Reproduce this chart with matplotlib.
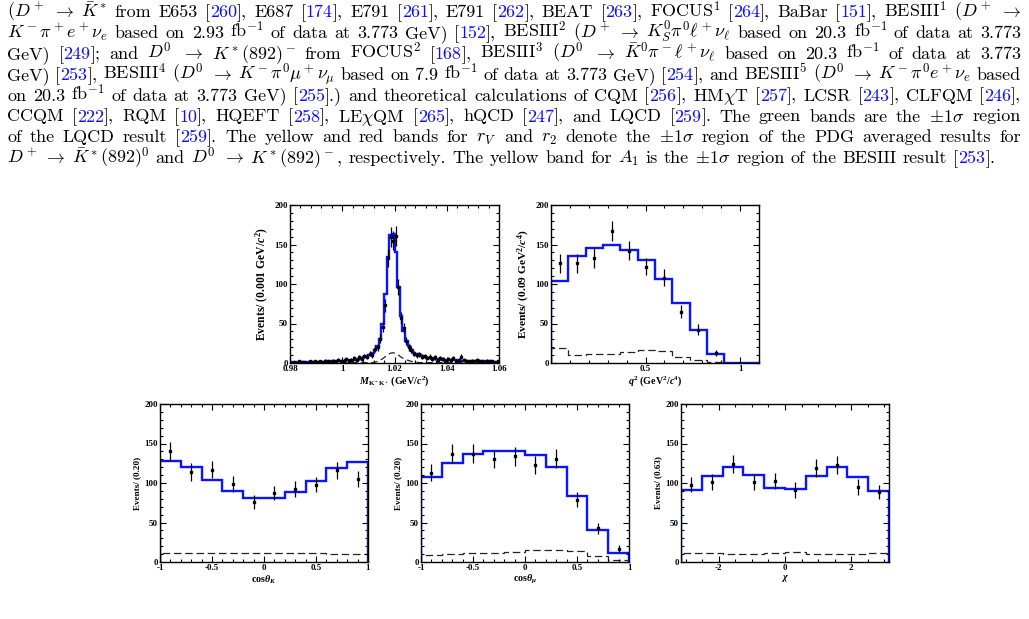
import re
import numpy as np
import matplotlib
matplotlib.use("Agg")
import matplotlib.pyplot as plt
from matplotlib.ticker import MultipleLocator, FuncFormatter

plt.rcParams['font.family'] = 'Liberation Serif'
plt.rcParams['font.weight'] = 'bold'
plt.rcParams['mathtext.fontset'] = 'custom'
plt.rcParams['mathtext.rm'] = 'Liberation Serif:bold'
plt.rcParams['mathtext.bf'] = 'Liberation Serif:bold'
plt.rcParams['mathtext.it'] = 'Liberation Serif:italic:bold'

W, H = 1029, 619
REF_BLUE = '#1010f0'
FIT_BLUE = '#0a14ff'

# ---------------- paragraph text ({nnn} = blue reference number) ----------------
text_lines = [
    r"($D^+$ $\rightarrow$ $\bar{K}^*$ from E653 [{260}], E687 [{174}], E791 [{261}], E791 [{262}], BEAT [{263}], FOCUS$^1$ [{264}], BaBar [{151}], BESIII$^1$ ($D^+$ $\rightarrow$",
    r"$K^-\pi^+e^+\nu_e$ based on 2.93 fb$^{-1}$ of data at 3.773 GeV) [{152}], BESIII$^2$ ($D^+$ $\rightarrow$ $K^0_S\pi^0\ell^+\nu_\ell$ based on 20.3 fb$^{-1}$ of data at 3.773",
    r"GeV) [{249}]; and $D^0$ $\rightarrow$ $K^*(892)^-$ from FOCUS$^2$ [{168}], BESIII$^3$ ($D^0$ $\rightarrow$ $\bar{K}^0\pi^-\ell^+\nu_\ell$ based on 20.3 fb$^{-1}$ of data at 3.773",
    r"GeV) [{253}], BESIII$^4$ ($D^0$ $\rightarrow$ $K^-\pi^0\mu^+\nu_\mu$ based on 7.9 fb$^{-1}$ of data at 3.773 GeV) [{254}], and BESIII$^5$ ($D^0$ $\rightarrow$ $K^-\pi^0e^+\nu_e$ based",
    r"on 20.3 fb$^{-1}$ of data at 3.773 GeV) [{255}].) and theoretical calculations of CQM [{256}], HM$\chi$T [{257}], LCSR [{243}], CLFQM [{246}],",
    r"CCQM [{222}], RQM [{10}], HQEFT [{258}], LE$\chi$QM [{265}], hQCD [{247}], and LQCD [{259}]. The green bands are the $\pm1\sigma$ region",
    r"of the LQCD result [{259}]. The yellow and red bands for $r_V$ and $r_2$ denote the $\pm1\sigma$ region of the PDG averaged results for",
    r"$D^+$ $\rightarrow$ $\bar{K}^*(892)^0$ and $D^0$ $\rightarrow$ $K^*(892)^-$, respectively. The yellow band for $A_1$ is the $\pm1\sigma$ region of the BESIII result [{253}].",
]

# ---------------- M(K-K+) ----------------
mkk_edges = np.arange(0.98, 1.0605, 0.001)[:81]
mkk_fit = [0.9, 0.9, 1.0, 1.0, 1.1, 1.1, 1.2, 1.2, 1.3, 1.4,
           1.5, 1.6, 1.7, 1.8, 1.9, 2.0, 2.2, 2.4, 2.6, 2.8,
           3.0, 3.3, 3.6, 4.0, 4.4, 4.9, 5.5, 6.3, 7.3, 8.6,
           10.3, 12.5, 16, 21, 31, 50, 87, 134, 162, 163,
           140, 96, 60, 40, 28, 21, 16, 13, 11, 9.5,
           8.4, 7.5, 6.8, 6.2, 5.7, 5.3, 4.9, 4.6, 4.3, 4.0,
           3.8, 3.6, 3.4, 3.2, 3.0, 2.9, 2.8, 2.7, 2.6, 2.5,
           2.4, 2.3, 2.2, 2.1, 2.0, 1.9, 1.9, 1.8, 1.8, 1.7]
mkk_data = [0, 1, 0, 2, 1, 1, 0, 2, 1, 2,
            1, 2, 1, 3, 2, 1, 3, 2, 4, 2,
            3, 5, 3, 4, 6, 4, 7, 5, 9, 8,
            12, 10, 18, 20, 31, 46, 73, 133, 160, 155,
            161, 96, 57, 44, 28, 20, 17, 12, 10, 11,
            8, 9, 6, 8, 5, 7, 4, 6, 5, 3,
            5, 4, 6, 3, 4, 8, 4, 3, 2, 3,
            2, 4, 3, 2, 1, 3, 2, 2, 1, 2]
mkk_err = [0, 1, 0, 1.4, 1, 1, 0, 1.4, 1, 1.4,
           1, 1.4, 1, 1.7, 1.4, 1, 1.7, 1.4, 2, 1.4,
           1.7, 2.2, 1.7, 2, 2.4, 2, 2.6, 2.2, 3, 2.8,
           3.5, 3.2, 4.2, 4.5, 5.6, 6.8, 8.5, 11.5, 12.6, 12.4,
           12.7, 9.8, 7.5, 6.6, 5.3, 4.5, 4.1, 3.5, 3.2, 3.3,
           2.8, 3, 2.4, 2.8, 2.2, 2.6, 2, 2.4, 2.2, 1.7,
           2.2, 2, 2.4, 1.7, 2, 2.8, 2, 1.7, 1.4, 1.7,
           1.4, 2, 1.7, 1.4, 1, 1.7, 1.4, 1.4, 1, 1.4]
mkk_bkg = [0.5] * 32 + [1, 2, 3.5, 5.5, 8, 10.5, 12.5, 13, 12, 10,
                        7.5, 5.5, 4, 3, 2, 1.5, 1] + [0.5] * 31

# ---------------- q^2 ----------------
q2_edges = np.linspace(0, 1.1, 13)
q2_fit = [104, 136, 146, 149, 143, 130, 106, 76, 42, 11, 0, 0]
q2_data = [126, 126, 133, 167, 142, 122, 108, 65, 42, 13]
q2_err = [12, 12, 13, 13, 12, 11, 11, 8, 7, 4]
q2_bkg = [19, 10, 11, 12, 14, 17, 15, 8, 4, 1, 0, 0]

# ---------------- cos(theta_K) ----------------
ck_edges = np.linspace(-1, 1, 11)
ck_fit = [128, 120, 104, 90, 81, 81, 89, 103, 119, 126]
ck_data = [140, 114, 117, 99, 76, 87, 92, 98, 116, 105]
ck_err = [12, 11, 11, 10, 9, 9, 10, 10, 11, 10]
ck_bkg = [11, 11, 12, 12, 11, 11, 11, 11, 10, 10]

# ---------------- cos(theta_mu) ----------------
cm_edges = np.linspace(-1, 1, 11)
cm_fit = [107, 125, 137, 140, 140, 135, 120, 84, 41, 11]
cm_data = [113, 137, 137, 130, 134, 123, 131, 79, 43, 17]
cm_err = [11, 12, 12, 11, 12, 11, 12, 9, 7, 4]
cm_bkg = [9, 10, 12, 12, 13, 15, 15, 14, 8, 2]

# ---------------- chi ----------------
chi_edges = np.linspace(-np.pi, np.pi, 11)
chi_fit = [91, 109, 120, 110, 94, 93, 109, 120, 108, 90]
chi_data = [98, 101, 124, 101, 103, 91, 119, 123, 95, 89]
chi_err = [10, 10, 11, 10, 10, 10, 11, 11, 10, 9]
chi_bkg = [11, 11, 10, 10, 11, 13, 10, 10, 10, 11]


fig = plt.figure(figsize=(W / 100, H / 100), dpi=100)
renderer = fig.canvas.get_renderer()

# ---------- justified paragraph ----------
FS = 13.0
X0, X1 = 7, 1021


def put_line(line, ybase, justify=True):
    words = []
    for w in line.split(' '):
        segs = []
        for part in re.split(r'(\{\d+\})', w):
            if not part:
                continue
            if part.startswith('{'):
                segs.append((part[1:-1], REF_BLUE))
            else:
                segs.append((part, 'black'))
        words.append(segs)
    placed, widths = [], []
    for segs in words:
        ts, tot = [], 0
        for s, c in segs:
            t = fig.text(0, 1 - ybase / H, s, color=c, fontsize=FS, family='cmr10',
                         weight='normal', math_fontfamily='cm', va='baseline', ha='left')
            bw = t.get_window_extent(renderer).width
            ts.append((t, bw))
            tot += bw
        placed.append(ts)
        widths.append(tot)
    if justify:
        gap = (X1 - X0 - sum(widths)) / (len(words) - 1)
    else:
        gap = FS * 0.34 * 100 / 72
    x = X0
    for ts, w in zip(placed, widths):
        xx = x
        for t, bw in ts:
            t.set_x(xx / W)
            xx += bw
        x += w + gap


for i, line in enumerate(text_lines):
    put_line(line, 17 + i * 20.9, justify=(i < len(text_lines) - 1))


# ---------- histogram panels ----------
def make_ax(x0, y0, x1, y1):
    return fig.add_axes([x0 / W, 1 - y1 / H, (x1 - x0) / W, (y1 - y0) / H])


def style(ax, xlim, xmajor, xminor, xlabel, ylabel, ylab_fs=6.6, hide_x=()):
    ax.set_xlim(*xlim)
    ax.set_ylim(0, 200)
    ax.xaxis.set_major_locator(MultipleLocator(xmajor))
    ax.xaxis.set_minor_locator(MultipleLocator(xminor))
    ax.yaxis.set_major_locator(MultipleLocator(50))
    ax.yaxis.set_minor_locator(MultipleLocator(10))
    ax.xaxis.set_major_formatter(FuncFormatter(
        lambda v, p: '' if any(abs(v - h) < 1e-9 for h in hide_x) else '%g' % round(v, 4)))
    ax.yaxis.set_major_formatter(FuncFormatter(lambda v, p: '%g' % v))
    ax.tick_params(which='both', direction='in', top=True, right=True, width=0.8,
                   labelsize=6.4, pad=1.5)
    ax.tick_params(which='major', length=4)
    ax.tick_params(which='minor', length=2)
    for lab in ax.get_xticklabels() + ax.get_yticklabels():
        lab.set_fontweight('bold')
    for sp in ax.spines.values():
        sp.set_linewidth(1.0)
    ax.set_xlabel(xlabel, fontsize=7.2, fontweight='bold')
    ax.set_ylabel(ylabel, fontsize=ylab_fs, fontweight='bold')
    ax.xaxis.set_label_coords(0.5, -0.07)
    ax.yaxis.set_label_coords(-0.09, 0.5)


def draw(ax, edges, fit, data, err, bkg, smooth_bkg=False):
    edges = np.asarray(edges)
    centers = 0.5 * (edges[:-1] + edges[1:])
    if smooth_bkg:
        ax.plot(centers, bkg, color='#222222', lw=0.9, ls=(0, (5, 3)))
    else:
        ax.stairs(bkg, edges, color='#222222', lw=0.9, ls=(0, (6, 3)))
    ax.stairs(fit, edges, baseline=0, color=FIT_BLUE, lw=1.7)
    n = len(data)
    ax.errorbar(centers[:n], data, yerr=err, fmt='s', ms=1.8, color='black',
                ecolor='black', elinewidth=0.9, capsize=0, zorder=3)


ax1 = make_ax(290, 205, 499, 363)
draw(ax1, mkk_edges, mkk_fit, mkk_data, mkk_err, mkk_bkg, smooth_bkg=True)
style(ax1, (0.98, 1.06), 0.02, 0.004, r"$M_{\mathrm{K^-K^+}}$ (GeV/$c^2$)",
      r"Events/ (0.001 GeV/$c^2$)", ylab_fs=8.4)

ax2 = make_ax(551, 205, 759, 363)
draw(ax2, q2_edges, q2_fit, q2_data, q2_err, q2_bkg)
style(ax2, (0, 1.1), 0.5, 0.1, r"$q^2$ (GeV$^2$/$c^4$)",
      r"Events/ (0.09 GeV$^2$/$c^4$)", ylab_fs=8.2, hide_x=(0,))

ax3 = make_ax(160, 404, 368, 562)
draw(ax3, ck_edges, ck_fit, ck_data, ck_err, ck_bkg)
style(ax3, (-1, 1), 0.5, 0.1, r"cos$\theta_K$", "Events/ (0.20)")

ax4 = make_ax(421, 404, 629, 562)
draw(ax4, cm_edges, cm_fit, cm_data, cm_err, cm_bkg)
style(ax4, (-1, 1), 0.5, 0.1, r"cos$\theta_\mu$", "Events/ (0.20)")

ax5 = make_ax(681, 404, 889, 562)
draw(ax5, chi_edges, chi_fit, chi_data, chi_err, chi_bkg)
style(ax5, (-np.pi, np.pi), 2, 0.5, r"$\chi$", "Events/ (0.63)")

fig.savefig("out.png", dpi=100)
